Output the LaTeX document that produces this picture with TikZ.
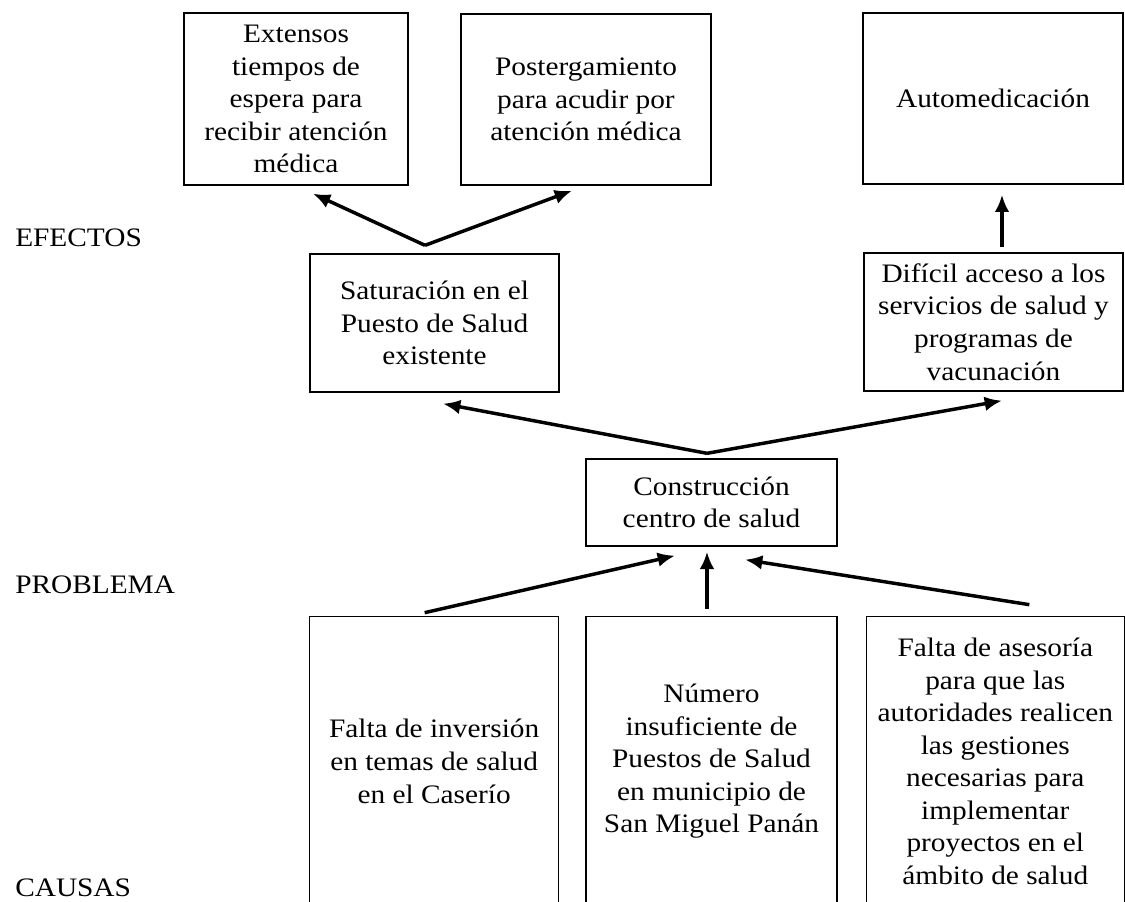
\documentclass[tikz,border=0pt]{standalone}
\usepackage{fontspec}
\setmainfont{Liberation Serif}[FakeStretch=1.1]
\usetikzlibrary{shapes,arrows,arrows.meta,positioning,calc}

\begin{document}
\begin{tikzpicture}[x=0.75pt, y=-0.75pt, font=\fontsize{20}{24.4}\selectfont]

% Define styles
\tikzstyle{effect} = [rectangle, draw=black, line width=1pt, inner sep=0pt, align=center]
\tikzstyle{cause} = [effect, minimum height=217.5pt]
\tikzstyle{arrow} = [line width=2.6pt, ->, >={Latex[length=13pt,width=11pt]}]
\tikzstyle{level} = [anchor=west, inner sep=0pt]

\clip (0,0) rectangle (1125,902);

% Row labels
\node (lbl_efectos) [level] at (15,238) {EFECTOS};
\node (lbl_problema) [level] at (15,585) {PROBLEMA};
\node (lbl_causas) [level] at (15,888) {CAUSAS};

% Effects
\node (espera) [effect, minimum width=168pt, minimum height=129pt] at (296,99) {Extensos\\tiempos de\\espera para\\recibir atención\\médica};
\node (posterga) [effect, minimum width=187.5pt, minimum height=128.25pt] at (586,99.5) {Postergamiento\\para acudir por\\atención médica};
\node (automed) [effect, minimum width=195pt, minimum height=128.25pt] at (993,98.5) {Automedicación};
\node (saturacion) [effect, minimum width=186.75pt, minimum height=103.5pt] at (434.5,323) {Saturación en el\\Puesto de Salud\\existente};
\node (acceso) [effect, minimum width=194.25pt, minimum height=103.5pt] at (993.5,322) {Difícil acceso a los\\servicios de salud y\\programas de\\vacunación};

% Problem
\node (centro) [effect, minimum width=188.25pt, minimum height=65.25pt] at (711.5,502.5) {Construcción\\centro de salud};

% Causes
\node (puestos) [cause, minimum width=188.25pt, below=51.75pt of centro] {Número\\insuficiente de\\Puestos de Salud\\en municipio de\\San Miguel Panán};
\node (inversion) [cause, minimum width=186.75pt, left=19.5pt of puestos] {Falta de inversión\\en temas de salud\\en el Caserío};
\node (asesoria) [cause, minimum width=193.5pt, right=21pt of puestos] {Falta de asesoría\\para que las\\autoridades realicen\\las gestiones\\necesarias para\\implementar\\proyectos en el\\ámbito de salud};

% Effects of saturation
\draw [arrow] ([shift={(-9.5,-8)}]saturacion.north) -- ([shift={(17,8)}]espera.south);
\draw [arrow] ([shift={(-9.5,-8)}]saturacion.north) -- ([shift={(-14,5)}]posterga.south);
\draw [arrow] ([shift={(8.5,-5)}]acceso.north) -- ([shift={(9,10)}]automed.south);

% Problem to effects
\draw [arrow] ([shift={(-4.5,-5)}]centro.north) -- ([shift={(8.5,11)}]saturacion.south);
\draw [arrow] ([shift={(-4.5,-5)}]centro.north) -- ([shift={(8.5,9)}]acceso.south);

% Causes to problem
\draw [arrow] ([shift={(-9.5,-3)}]inversion.north) -- ([shift={(-36.5,9)}]centro.south);
\draw [arrow] ([shift={(-4.5,-7)}]puestos.north) -- ([shift={(-4.5,5)}]centro.south);
\draw [arrow] ([shift={(34,-11)}]asesoria.north) -- ([shift={(33.5,13)}]centro.south);

\end{tikzpicture}
\end{document}
